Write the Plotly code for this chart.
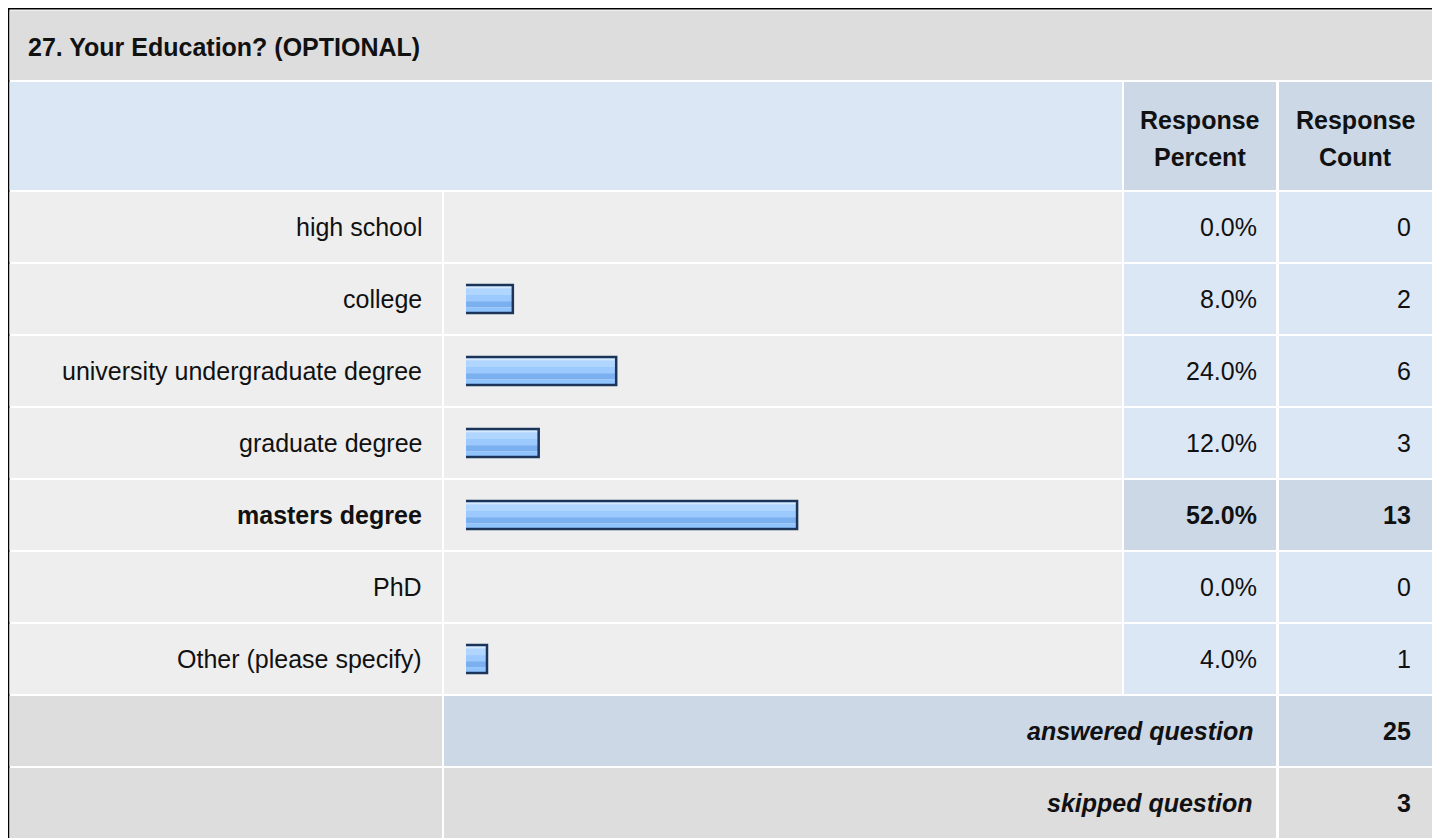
import plotly.graph_objects as go

# survey data
question = "27. Your Education? (OPTIONAL)"
categories = [
    "high school",
    "college",
    "university undergraduate degree",
    "graduate degree",
    "masters degree",
    "PhD",
    "Other (please specify)",
]
percents = [0.0, 8.0, 24.0, 12.0, 52.0, 0.0, 4.0]
counts = [0, 2, 6, 3, 13, 0, 1]
header_labels = ["Response<br>Percent", "Response<br>Count"]
answered = 25
skipped = 3

W, H = 1440, 838
OFF = 8  # page body margin: figure starts 8px in from the window corner
FONT = "Liberation Sans, Arial, sans-serif"
FS = 25
colors = {
    'border': '#000000',
    'title_bg': '#DDDDDD',
    'head_bg': '#DCE7F5',
    'head_cell': '#CCD8E6',
    'row_bg': '#EEEEEE',
    'num_bg': '#DCE7F5',
    'hi_bg': '#CCD8E6',
    'bar_line': '#1B355A',
    'text': '#111111',
}

# column edges (window pixels)
COL_LABEL = (9, 442)
COL_BAR = (444, 1122)
COL_PCT = (1124, 1276)
COL_CNT = (1279, 1432)
ROW0, ROW_STEP, ROW_H = 192, 72, 70


def px(x):
    return (x - OFF) / W


def py(y):
    return 1 - (y - OFF) / H


shapes = []
annotations = []


def cell(x0, y0, x1, y1, color):
    shapes.append(dict(type='rect', xref='paper', yref='paper',
                       x0=px(x0), x1=px(x1), y0=py(y1), y1=py(y0),
                       fillcolor=color, line=dict(width=0), layer='below'))


def text(x, y, s, anchor='right', bold=False, italic=False, size=FS):
    if bold:
        s = f"<b>{s}</b>"
    if italic:
        s = f"<i>{s}</i>"
    annotations.append(dict(xref='paper', yref='paper', x=px(x), y=py(y),
                            text=s, showarrow=False, xanchor=anchor, yanchor='middle',
                            font=dict(family=FONT, size=size, color=colors['text'])))


# outer frame
cell(8, 8, 1438, 9.5, colors['border'])
cell(8, 8, 9.5, 850, colors['border'])
cell(1433.5, 8, 1438, 850, colors['border'])

# title row
cell(9.5, 10.5, 1432, 80, colors['title_bg'])
text(26, 47, question, anchor='left', bold=True)

# header row
cell(COL_LABEL[0] + 0.5, 82, COL_BAR[1], 190, colors['head_bg'])
cell(COL_PCT[0], 82, COL_PCT[1], 190, colors['head_cell'])
cell(COL_CNT[0], 82, COL_CNT[1], 190, colors['head_cell'])
for col, lab in zip([COL_PCT, COL_CNT], header_labels):
    top, bottom = lab.split("<br>")
    cx = (col[0] + col[1]) / 2
    text(cx, 120, top, anchor='center', bold=True)
    text(cx, 157, bottom, anchor='center', bold=True)

# data rows
top_idx = counts.index(max(counts))
for i, (cat, pct, cnt) in enumerate(zip(categories, percents, counts)):
    y0 = ROW0 + ROW_STEP * i
    y1 = y0 + ROW_H
    yc = (y0 + y1) / 2
    hi = i == top_idx
    cell(COL_LABEL[0] + 0.5, y0, COL_LABEL[1], y1, colors['row_bg'])
    cell(COL_BAR[0], y0, COL_BAR[1], y1, colors['row_bg'])
    cell(COL_PCT[0], y0, COL_PCT[1], y1, colors['hi_bg'] if hi else colors['num_bg'])
    cell(COL_CNT[0], y0, COL_CNT[1], y1, colors['hi_bg'] if hi else colors['num_bg'])
    text(COL_LABEL[1] - 18, yc, cat, bold=hi)
    text(COL_PCT[1] - 17, yc, f"{pct:.1f}%", bold=hi)
    text(COL_CNT[1] - 19, yc, str(cnt), bold=hi)

# summary rows
n = len(categories)
y0 = ROW0 + ROW_STEP * n
cell(COL_LABEL[0] + 0.5, y0, COL_LABEL[1], y0 + ROW_H, colors['title_bg'])
cell(COL_BAR[0], y0, COL_PCT[1], y0 + ROW_H, colors['hi_bg'])
cell(COL_CNT[0], y0, COL_CNT[1], y0 + ROW_H, colors['hi_bg'])
text(COL_PCT[1] - 21, y0 + ROW_H / 2, "answered question", bold=True, italic=True)
text(COL_CNT[1] - 19, y0 + ROW_H / 2, str(answered), bold=True)

y0 = ROW0 + ROW_STEP * (n + 1)
cell(COL_LABEL[0] + 0.5, y0, COL_LABEL[1], y0 + ROW_H + 20, colors['title_bg'])
cell(COL_BAR[0], y0, COL_PCT[1], y0 + ROW_H + 20, colors['title_bg'])
cell(COL_CNT[0], y0, COL_CNT[1], y0 + ROW_H + 20, colors['title_bg'])
text(COL_PCT[1] - 21, y0 + ROW_H / 2, "skipped question", bold=True, italic=True)
text(COL_CNT[1] - 19, y0 + ROW_H / 2, str(skipped), bold=True)

# bars: glossy stripes then an outline on top
bar_h = 28 / ROW_STEP
bar_x = [p if p > 0 else None for p in percents]
bar_base = [-0.75 if p > 0 else None for p in percents]
stripes = [
    (0.00, 0.12, '#D2E9FF'),
    (0.12, 0.36, '#B0D6FF'),
    (0.36, 0.58, '#9CCAFF'),
    (0.58, 0.80, '#7AAFF0'),
    (0.80, 1.00, '#90C4FF'),
]

fig = go.Figure()
for f0, f1, c in stripes:
    fig.add_trace(go.Bar(
        y=categories, x=bar_x, base=bar_base, orientation='h',
        width=(f1 - f0) * bar_h + 0.002, offset=-bar_h / 2 + f0 * bar_h,
        marker=dict(color=c, line=dict(width=0)),
        showlegend=False, hoverinfo='skip',
    ))
fig.add_trace(go.Bar(
    y=categories, x=bar_x, base=bar_base, orientation='h',
    width=bar_h, offset=-bar_h / 2,
    marker=dict(color='rgba(0,0,0,0)', line=dict(color=colors['bar_line'], width=2.5)),
    showlegend=False,
    hovertemplate="%{y}: %{x:.1f}%<extra></extra>",
))

# x: 0% sits at 466px, 6.46px per percent
x_start = 466
fig.update_xaxes(domain=[px(x_start), px(x_start + 646)], range=[0, 100],
                 showgrid=False, zeroline=False, showticklabels=False, fixedrange=True)
fig.update_yaxes(domain=[py(ROW0 - 1 + ROW_STEP * n), py(ROW0 - 1)],
                 type='category', range=[n - 0.5, -0.5],
                 showgrid=False, zeroline=False, showticklabels=False, fixedrange=True)

fig.update_layout(
    width=W, height=H,
    margin=dict(l=0, r=0, t=0, b=0),
    paper_bgcolor='white',
    plot_bgcolor='rgba(0,0,0,0)',
    barmode='overlay',
    shapes=shapes,
    annotations=annotations,
    font=dict(family=FONT, size=FS, color=colors['text']),
)

fig.write_html("out.html")
